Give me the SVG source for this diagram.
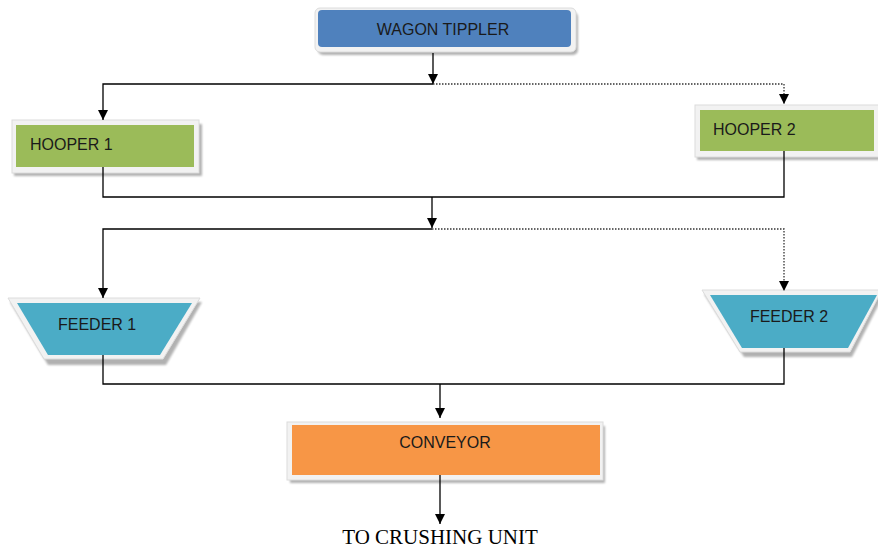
<svg xmlns="http://www.w3.org/2000/svg" width="878" height="550" viewBox="0 0 878 550">
<defs>
<marker id="arr" viewBox="0 0 10 10" refX="10" refY="5" markerWidth="10" markerHeight="10" markerUnits="userSpaceOnUse" orient="auto">
<path d="M0,0 L10,5 L0,10 z" fill="#000"/>
</marker>
<filter id="sh" x="-10%" y="-10%" width="130%" height="140%">
<feGaussianBlur stdDeviation="1"/>
</filter>
</defs>
<style>
.lbl{font-family:"Liberation Sans",Arial,sans-serif;font-size:16px;fill:#1a1a1a}
.out{fill:#f2f2f2;stroke:#dcdcdc;stroke-width:1}
.shd{fill:#000;opacity:0.3}
.ln{fill:none;stroke:#000;stroke-width:1.3}
.dot{fill:none;stroke:#333;stroke-width:1.3;stroke-dasharray:1.5 1.5}
.cap{font-family:"Liberation Serif","Times New Roman",serif;font-size:21px;fill:#000}
</style>
<rect width="878" height="550" fill="#fff"/>

<g id="wagon-tippler">
<rect class="shd" x="318" y="12" width="260" height="43" rx="5" filter="url(#sh)"/>
<rect class="out" x="315" y="8" width="261" height="44" rx="5"/>
<rect x="318" y="10" width="253" height="37" rx="4" fill="#4F81BD"/>
<text class="lbl" x="443" y="35" text-anchor="middle">WAGON TIPPLER</text>
</g>

<g id="hooper-1">
<rect class="shd" x="14" y="124" width="188" height="52" filter="url(#sh)"/>
<rect class="out" x="12" y="120" width="187" height="53"/>
<rect x="16" y="125" width="178" height="42" fill="#9BBB59"/>
<text class="lbl" x="30" y="150">HOOPER 1</text>
</g>

<g id="hooper-2">
<rect class="shd" x="697" y="108" width="185" height="52" filter="url(#sh)"/>
<rect class="out" x="695" y="105" width="185" height="52"/>
<rect x="700" y="110" width="174" height="41" fill="#9BBB59"/>
<text class="lbl" x="713" y="135">HOOPER 2</text>
</g>

<g id="feeder-1">
<polygon class="shd" points="10,302 202,302 166,365 48,365" filter="url(#sh)"/>
<polygon class="out" points="8,298 200,298 163,359 44,359"/>
<polygon points="17,303 192,303 160,355 48,355" fill="#4BACC6"/>
<text class="lbl" x="58" y="330">FEEDER 1</text>
</g>

<g id="feeder-2">
<polygon class="shd" points="704,294 884,294 852,357 744,357" filter="url(#sh)"/>
<polygon class="out" points="702,290 882,290 850,352 740,352"/>
<polygon points="710,295 877,295 848,348 742,348" fill="#4BACC6"/>
<text class="lbl" x="789" y="322" text-anchor="middle">FEEDER 2</text>
</g>

<g id="conveyor">
<rect class="shd" x="290" y="426" width="315" height="57" filter="url(#sh)"/>
<rect class="out" x="287" y="422" width="316" height="58"/>
<rect x="292" y="425" width="308" height="50" fill="#F79646"/>
<text class="lbl" x="445" y="448" text-anchor="middle">CONVEYOR</text>
</g>

<g id="to-crushing-unit">
<text class="cap" x="440" y="544" text-anchor="middle">TO CRUSHING UNIT</text>
</g>

<g id="connectors">
<path class="ln" d="M433,53 V84" marker-end="url(#arr)"/>
<path class="ln" d="M433,84 H103 V120" marker-end="url(#arr)"/>
<path class="dot" d="M433,84 H784 V104" marker-end="url(#arr)"/>
<path class="ln" d="M103,167 V197 H784 V151"/>
<path class="ln" d="M432,197 V228" marker-end="url(#arr)"/>
<path class="ln" d="M432,229 H103 V298" marker-end="url(#arr)"/>
<path class="dot" d="M432,229 H784 V291" marker-end="url(#arr)"/>
<path class="ln" d="M103,355 V384 H784 V348"/>
<path class="ln" d="M440,384 V418" marker-end="url(#arr)"/>
<path class="ln" d="M440,475 V524" marker-end="url(#arr)"/>
</g>
</svg>
